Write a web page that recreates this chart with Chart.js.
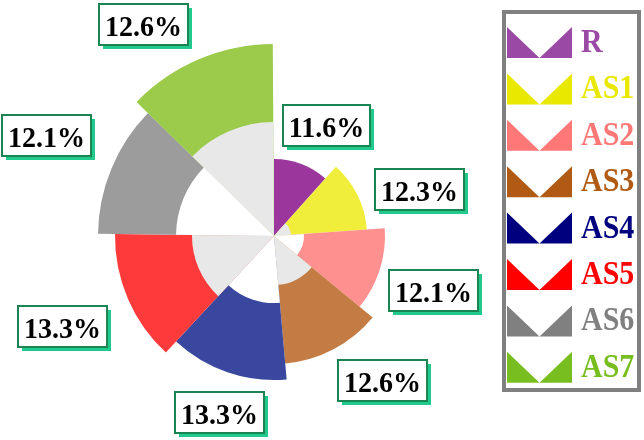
<!DOCTYPE html>
<html>
<head>
<meta charset="utf-8">
<title>Share rose</title>
<script src="https://cdn.jsdelivr.net/npm/chart.js@4.4.1/dist/chart.umd.min.js"></script>
<style>
    html, body { margin: 0; padding: 0; background: #fff; }
    canvas { display: block; }
</style>
</head>
<body>
<canvas id="roseChart" width="644" height="440"></canvas>
<script>
/* -------- Data -------- */
const SERIES = ['R', 'AS1', 'AS2', 'AS3', 'AS4', 'AS5', 'AS6', 'AS7'];
const SHARE = [11.6, 12.3, 12.1, 12.6, 13.3, 13.3, 12.1, 12.6];   // % -> slice angle + label
const OUTER_R = [77, 93, 111, 128, 144, 159, 176, 192];          // coloured band outer edge
const GREY_R = [0, 17, 0, 49, 0, 82, 0, 114];                    // light grey band
const HOLE_R = [0, 0, 30, 0, 67, 0, 98, 0];                      // white hole
const R_MAX = 200;

/* -------- Colours -------- */
const SLICE_COLORS = ['#9a369c', '#f0ee3a', '#ff9090', '#c27c44',
                      '#3a479e', '#ff3a3a', '#9c9c9c', '#9ccb4c'];
const KEY_COLORS = ['#9a4aa4', '#e8e800', '#ff7878', '#b05a14',
                    '#00007f', '#ff0000', '#808080', '#78be20'];

/* slightly tall type, like the original */
function tallText(ctx, text, x, y, stretch) {
    ctx.save();
    ctx.translate(x, y);
    ctx.scale(1, stretch);
    ctx.fillText(text, 0, 0);
    ctx.restore();
}

/* -------- Percentage boxes round the rose -------- */
const labelBoxes = {
    id: 'labelBoxes',
    afterDatasetsDraw(chart, args, opts) {
        const ctx = chart.ctx;
        const arcs = chart.getDatasetMeta(2).data;
        ctx.save();
        ctx.font = opts.font;
        ctx.textAlign = 'center';
        ctx.textBaseline = 'alphabetic';
        arcs.forEach((arc, i) => {
            const mid = (arc.startAngle + arc.endAngle) / 2 + opts.turn[i] * Math.PI / 180;
            const d = arc.outerRadius + opts.gap[i];
            const cx = arc.x + Math.cos(mid) * d;
            const cy = arc.y + Math.sin(mid) * d;
            const text = SHARE[i].toFixed(1) + '%';
            const w = Math.round(ctx.measureText(text).width + 2 * opts.padX);
            const h = opts.boxHeight;
            const x = Math.round(cx - w / 2);
            const y = Math.max(2, Math.round(cy - h / 2));
            ctx.fillStyle = opts.shadow;
            ctx.fillRect(x + 4, y + 4, w, h);
            ctx.fillStyle = '#fff';
            ctx.fillRect(x, y, w, h);
            ctx.strokeStyle = opts.border;
            ctx.lineWidth = 2;
            ctx.strokeRect(x, y, w, h);
            ctx.fillStyle = '#000';
            tallText(ctx, text, x + w / 2, y + opts.baseline, opts.stretch);
        });
        ctx.restore();
    }
};

/* -------- Boxed key on the right -------- */
const sideKey = {
    id: 'sideKey',
    afterDraw(chart, args, opts) {
        const ctx = chart.ctx;
        ctx.save();
        ctx.strokeStyle = opts.frame;
        ctx.lineWidth = 4;
        ctx.strokeRect(opts.left, opts.top, opts.width, opts.height);

        ctx.font = opts.font;
        ctx.textAlign = 'left';
        ctx.textBaseline = 'alphabetic';
        SERIES.forEach((name, i) => {
            const x = opts.iconX;
            const y = opts.firstY + i * opts.step;
            const w = opts.iconW;
            const h = opts.iconH;
            ctx.fillStyle = KEY_COLORS[i];
            ctx.beginPath();
            ctx.moveTo(x, y);
            ctx.lineTo(x + w / 2, y + h);
            ctx.lineTo(x + w, y);
            ctx.lineTo(x + w, y + h);
            ctx.lineTo(x, y + h);
            ctx.closePath();
            ctx.fill();
            tallText(ctx, name, opts.textX, y + opts.baseline, opts.stretch);
        });
        ctx.restore();
    }
};

/* -------- Chart -------- */
const layer = (values, color) => ({
    data: values,
    backgroundColor: color,
    borderWidth: 0,
    angle: c => SHARE[c.dataIndex] * 3.6
});

new Chart(document.getElementById('roseChart'), {
    type: 'polarArea',
    data: {
        labels: SERIES,
        datasets: [
            layer(HOLE_R, '#ffffff'),
            layer(GREY_R, '#e8e8e8'),
            layer(OUTER_R, SLICE_COLORS)
        ]
    },
    options: {
        responsive: false,
        animation: false,
        events: [],
        layout: { padding: { left: 74, right: 170, top: 36, bottom: 4 } },
        scales: {
            r: {
                min: 0,
                max: R_MAX,
                grid: { display: false },
                angleLines: { display: false },
                ticks: { display: false },
                pointLabels: { display: false }
            }
        },
        plugins: {
            legend: { display: false },
            tooltip: { enabled: false },
            labelBoxes: {
                font: 'bold 28px "Liberation Serif", "Times New Roman", serif',
                padX: 6,
                boxHeight: 41,
                baseline: 32,
                stretch: 1.08,
                border: '#1b8453',
                shadow: '#22c98c',
                turn: [4.4, 8.4, 1, -9.2, -1.8, 0, 1.2, -8.6],
                gap: [45, 60, 58, 53, 41, 71, 73, 57]
            },
            sideKey: {
                frame: '#808080',
                left: 504, top: 12, width: 135, height: 378,
                font: 'bold 30px "Liberation Serif", "Times New Roman", serif',
                iconX: 507, iconW: 65, iconH: 31,
                firstY: 27, step: 46.4,
                textX: 581, baseline: 25,
                stretch: 1.12
            }
        }
    },
    plugins: [labelBoxes, sideKey]
});
</script>
</body>
</html>
